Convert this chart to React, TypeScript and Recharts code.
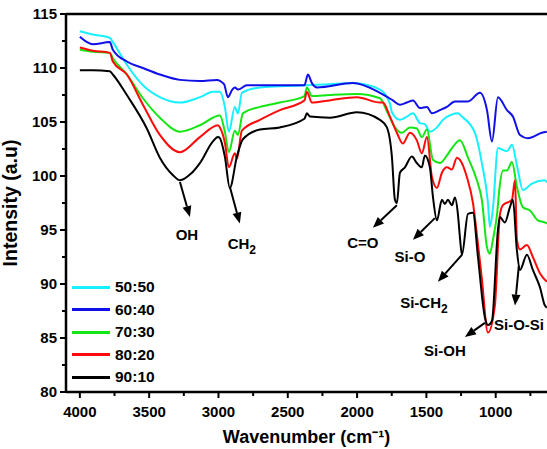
import React from 'react';
import { LineChart, Line, XAxis, YAxis, ReferenceLine, Legend } from 'recharts';

const FONT = '"Liberation Sans", Arial, Helvetica, sans-serif';

// wavenumber (cm-1), intensity (a.u)
const s5050: [number, number][] = [
  [4000, 113.4], [3906, 113.1], [3784, 112.8], [3762, 112.4], [3661, 110.3], [3545, 108.4], [3423, 107.3],
  [3278, 106.8], [3134, 107.3], [3040, 107.8], [2990, 107.8], [2954, 106.4], [2925, 104.1], [2882, 106.4],
  [2860, 105.8], [2831, 107.7], [2701, 108.2], [2557, 108.3], [2362, 108.4], [2200, 108.5], [2030, 108.6],
  [1835, 108.0], [1763, 106.7], [1749, 105.9], [1691, 105.2], [1641, 105.5], [1597, 105.8], [1547, 104.9],
  [1511, 104.8], [1475, 104.1], [1424, 104.5], [1381, 105.2], [1316, 105.7], [1273, 105.8], [1244, 105.5],
  [1150, 104.0], [1100, 101.2], [1056, 97.5], [1042, 95.3], [1020, 97.0], [984, 102.6], [919, 102.3],
  [883, 102.9], [847, 101.0], [804, 98.7], [739, 99.3], [645, 99.6], [631, 99.4],
];

const s6040: [number, number][] = [
  [4000, 112.9], [3906, 112.2], [3784, 112.4], [3762, 111.7], [3661, 110.6], [3545, 110.0], [3423, 109.4],
  [3278, 108.9], [3134, 108.8], [3012, 108.9], [2960, 108.5], [2932, 107.3], [2900, 108.0], [2882, 108.2],
  [2860, 108.0], [2795, 108.4], [2629, 108.4], [2380, 108.4], [2355, 109.4], [2326, 108.6], [2290, 108.2],
  [2030, 108.6], [1835, 107.7], [1742, 107.0], [1691, 106.6], [1641, 106.8], [1597, 107.0], [1547, 106.3],
  [1496, 106.4], [1460, 105.8], [1403, 106.1], [1352, 106.4], [1294, 106.9], [1200, 106.9], [1114, 107.7],
  [1063, 106.1], [1027, 103.2], [984, 107.3], [919, 106.1], [876, 105.5], [825, 103.8], [768, 103.5],
  [667, 104.0], [631, 104.1],
];

const s7030: [number, number][] = [
  [4000, 111.7], [3906, 111.5], [3784, 111.4], [3762, 110.9], [3661, 109.4], [3545, 107.2], [3423, 105.4],
  [3278, 104.1], [3134, 104.7], [2990, 105.6], [2954, 104.1], [2925, 102.2], [2882, 104.2], [2860, 103.8],
  [2824, 105.8], [2701, 106.4], [2557, 106.8], [2380, 107.4], [2362, 108.2], [2326, 107.4], [2200, 107.5],
  [2001, 107.6], [1835, 107.2], [1778, 105.8], [1727, 104.5], [1677, 104.0], [1619, 104.5], [1569, 104.4],
  [1533, 103.6], [1496, 104.3], [1453, 101.5], [1403, 101.2], [1352, 101.9], [1309, 102.7], [1258, 103.3],
  [1200, 101.7], [1136, 99.6], [1100, 97.8], [1063, 93.4], [1042, 92.8], [1020, 94.1], [991, 96.4],
  [970, 99.2], [948, 100.5], [919, 100.5], [883, 101.3], [847, 99.0], [804, 97.1], [753, 96.8],
  [696, 95.9], [645, 95.7], [631, 95.6],
];

const s8020: [number, number][] = [
  [4000, 111.9], [3906, 111.6], [3784, 111.4], [3762, 110.6], [3661, 109.4], [3545, 106.6], [3423, 103.8],
  [3278, 102.2], [3134, 103.6], [3004, 104.7], [2990, 104.5], [2954, 103.1], [2925, 100.8], [2882, 102.1],
  [2867, 101.6], [2831, 104.2], [2701, 105.2], [2557, 106.1], [2380, 107.0], [2362, 107.8], [2326, 106.8],
  [2200, 107.0], [2001, 107.3], [1835, 106.8], [1814, 106.8], [1763, 105.5], [1713, 104.0], [1670, 103.0],
  [1619, 104.0], [1569, 103.3], [1533, 102.1], [1496, 103.6], [1460, 99.9], [1424, 98.9], [1388, 100.3],
  [1352, 100.8], [1316, 100.6], [1280, 101.7], [1258, 101.5], [1208, 99.9], [1164, 97.5], [1136, 94.6],
  [1100, 90.5], [1056, 85.5], [1006, 88.0], [970, 96.4], [948, 97.3], [883, 97.8], [861, 99.6],
  [847, 94.1], [825, 93.2], [775, 93.6], [732, 92.5], [681, 91.0], [631, 90.2],
];

const s9010: [number, number][] = [
  [4000, 109.8], [3906, 109.8], [3784, 109.7], [3762, 109.4], [3661, 107.5], [3517, 104.4], [3423, 101.7],
  [3330, 100.1], [3278, 99.6], [3200, 100.2], [3134, 101.2], [3040, 103.2], [3004, 103.6], [2990, 103.5],
  [2954, 101.8], [2918, 98.9], [2867, 101.8], [2824, 103.4], [2701, 104.3], [2557, 104.5], [2380, 105.3],
  [2362, 105.8], [2340, 105.5], [2196, 105.4], [2001, 105.9], [1835, 105.2], [1785, 104.5], [1749, 101.8],
  [1727, 97.8], [1713, 97.5], [1691, 100.3], [1655, 100.8], [1605, 101.8], [1569, 101.2], [1533, 100.8],
  [1511, 101.9], [1475, 100.8], [1453, 98.1], [1424, 95.9], [1388, 97.8], [1367, 97.4], [1345, 97.8],
  [1316, 97.3], [1294, 98.0], [1273, 96.5], [1258, 94.3], [1244, 92.7], [1200, 96.5], [1164, 96.6],
  [1128, 92.5], [1078, 86.9], [1056, 86.2], [1027, 86.6], [984, 95.0], [970, 96.2], [934, 95.7],
  [898, 97.1], [876, 97.8], [847, 93.1], [825, 91.3], [775, 92.7], [732, 91.3], [681, 89.7],
  [645, 88.0], [631, 87.8],
];

const seriesNames = ['50:50', '60:40', '70:30', '80:20', '90:10'];
const seriesColors = ['#16F0FF', '#0F0FE8', '#14E614', '#FF0A0A', '#000000'];
const seriesData = [s5050, s6040, s7030, s8020, s9010];

const xTicks = [4000, 3750, 3500, 3250, 3000, 2750, 2500, 2250, 2000, 1750, 1500, 1250, 1000, 750];
const xLabels = [4000, 3500, 3000, 2500, 2000, 1500, 1000];
const yTicks = [80, 82.5, 85, 87.5, 90, 92.5, 95, 97.5, 100, 102.5, 105, 107.5, 110, 112.5, 115];
const yLabels = [80, 85, 90, 95, 100, 105, 110, 115];

// annotation arrows: label, subscript, start (wn, y), tip (wn, y)
const annLabels = ['OH', 'CH', 'C=O', 'Si-O', 'Si-CH', 'Si-OH', 'Si-O-Si'];
const annSubs = ['', '2', '', '', '2', '', ''];
const annStart: [number, number][] = [[3278, 99.45], [2918, 99.0], [1713, 97.3], [1439, 96.1], [1244, 92.7], [1078, 86.4], [833, 91.7]];
const annTip: [number, number][] = [[3206, 96.2], [2846, 95.6], [1886, 95.2], [1597, 94.1], [1417, 90.2], [1222, 85.1], [861, 88.0]];
const annOffset: [number, number][] = [[-3, 23], [2, 25], [-10, 20], [-3, 22], [-14, 26], [-20, 19], [4, 24]];

const toRows = (pts: [number, number][]) => pts.map(([wn, v]) => ({ wn, v }));

const XTick = (props: any) => {
  const { x, y, payload } = props;
  const major = xLabels.includes(payload.value);
  return (
    <g>
      <line x1={x} x2={x} y1={y} y2={y + (major ? 6 : 4)} stroke="#000" strokeWidth={2} />
      {major && (
        <text x={x} y={y + 25} textAnchor="middle" fontFamily={FONT} fontWeight="bold" fontSize={15} fill="#000">
          {payload.value}
        </text>
      )}
    </g>
  );
};

const YTick = (props: any) => {
  const { x, y, payload } = props;
  const major = yLabels.includes(payload.value);
  return (
    <g>
      <line x1={x - (major ? 6 : 4)} x2={x} y1={y} y2={y} stroke="#000" strokeWidth={2} />
      {major && (
        <text x={x - 9} y={y + 5} textAnchor="end" fontFamily={FONT} fontWeight="bold" fontSize={15} fill="#000">
          {payload.value}
        </text>
      )}
    </g>
  );
};

const makeArrow = (i: number) => (p: any) => {
  const { x1, y1, x2, y2 } = p;
  const ang = Math.atan2(y2 - y1, x2 - x1);
  const L = 11;
  const W = 4.5;
  const bx = x2 - L * Math.cos(ang);
  const by = y2 - L * Math.sin(ang);
  const sx = Math.sin(ang);
  const cx = Math.cos(ang);
  const pts = `${x2},${y2} ${bx + W * sx},${by - W * cx} ${bx - W * sx},${by + W * cx}`;
  const [dx, dy] = annOffset[i];
  return (
    <g>
      <line x1={x1} y1={y1} x2={bx} y2={by} stroke="#000" strokeWidth={2} />
      <polygon points={pts} fill="#000" />
      <text x={x2 + dx} y={y2 + dy} textAnchor="middle" fontFamily={FONT} fontWeight="bold" fontSize={15} fill="#000">
        {annLabels[i]}
        {annSubs[i] && (
          <tspan dy={5} fontSize={12}>
            {annSubs[i]}
          </tspan>
        )}
      </text>
    </g>
  );
};

const renderLegend = () => (
  <div style={{ fontFamily: FONT, fontWeight: 'bold', fontSize: 15.5, color: '#000' }}>
    {seriesNames.map((n, i) => (
      <div key={n} style={{ display: 'flex', alignItems: 'center', height: 22.5 }}>
        <div style={{ width: 38, height: 3, background: seriesColors[i], marginRight: 5 }} />
        <span>{n}</span>
      </div>
    ))}
  </div>
);

export default function App() {
  return (
    <div style={{ position: 'absolute', left: 0, top: 0, width: 547, height: 449, background: '#fff' }}>
      <LineChart width={547} height={449} margin={{ top: 14, right: 0, bottom: 0, left: 0 }}>
        <XAxis
          type="number"
          dataKey="wn"
          domain={[630, 4100]}
          reversed
          ticks={xTicks}
          interval={0}
          allowDataOverflow
          height={57}
          tickSize={0}
          tickMargin={0}
          tickLine={false}
          axisLine={{ stroke: '#000', strokeWidth: 2.5 }}
          tick={<XTick />}
          label={{
            value: 'Wavenumber (cm⁻¹)',
            position: 'insideBottom',
            offset: 6,
            style: { fontFamily: FONT, fontWeight: 'bold', fontSize: 18, fill: '#000' },
          }}
        />
        <YAxis
          type="number"
          domain={[80, 115]}
          ticks={yTicks}
          interval={0}
          allowDataOverflow
          width={66}
          tickSize={0}
          tickMargin={0}
          tickLine={false}
          axisLine={{ stroke: '#000', strokeWidth: 2.5 }}
          tick={<YTick />}
          label={{
            value: 'Intensity (a.u)',
            angle: -90,
            position: 'insideLeft',
            offset: 10,
            style: { fontFamily: FONT, fontWeight: 'bold', fontSize: 19.5, fill: '#000', textAnchor: 'middle' },
          }}
        />
        <ReferenceLine y={115} stroke="#000" strokeWidth={2.5} ifOverflow="visible" />
        {seriesData.map((d, i) => (
          <Line
            key={seriesNames[i]}
            data={toRows(d)}
            dataKey="v"
            name={seriesNames[i]}
            stroke={seriesColors[i]}
            strokeWidth={2}
            dot={false}
            type="monotone"
            isAnimationActive={false}
          />
        ))}
        {annLabels.map((l, i) => (
          <ReferenceLine
            key={l + i}
            segment={[
              { x: annStart[i][0], y: annStart[i][1] },
              { x: annTip[i][0], y: annTip[i][1] },
            ]}
            ifOverflow="visible"
            shape={makeArrow(i)}
          />
        ))}
        <Legend
          layout="vertical"
          align="center"
          verticalAlign="middle"
          content={renderLegend}
          wrapperStyle={{ position: 'absolute', left: 72, top: 276, width: 120, height: 115 }}
        />
      </LineChart>
    </div>
  );
}
